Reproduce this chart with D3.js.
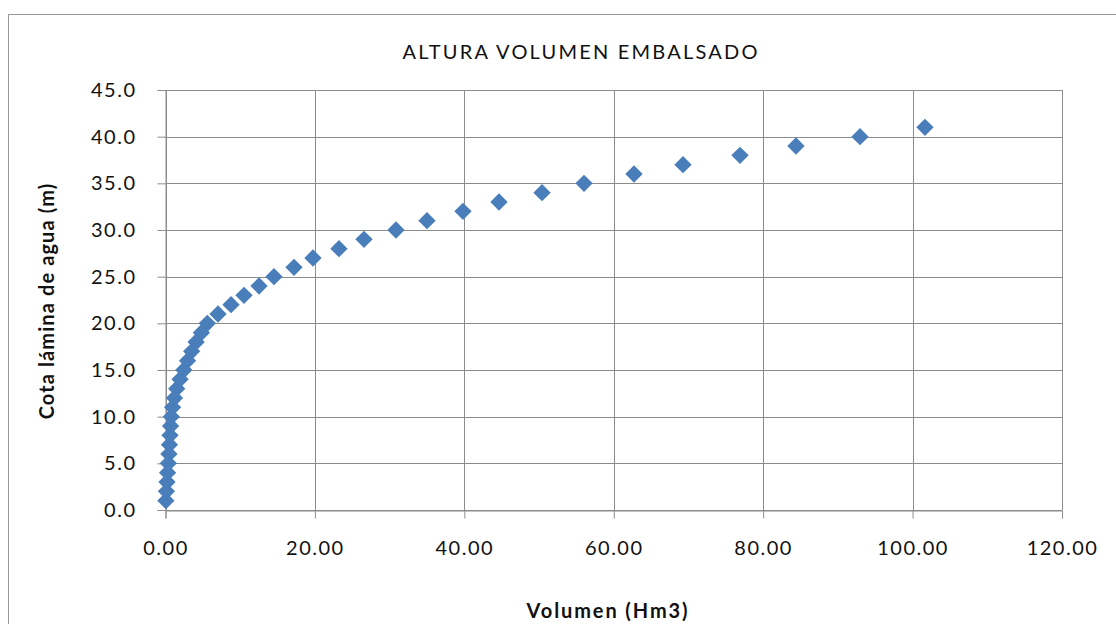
<!DOCTYPE html>
<html>
<head>
<meta charset="utf-8">
<script src="https://cdn.jsdelivr.net/npm/d3@7"></script>
<style>
  body { margin: 0; background: #fff; }
  text { font-family: Lato, "Open Sans", sans-serif; fill: #111; }
</style>
</head>
<body>
<script>
/* Cota (m) vs volumen embalsado (Hm3) */
var cota = [1, 2, 3, 4, 5, 6, 7, 8, 9, 10, 11, 12, 13, 14, 15, 16, 17, 18, 19, 20,
            21, 22, 23, 24, 25, 26, 27, 28, 29, 30, 31, 32, 33, 34, 35, 36, 37, 38, 39, 40, 41];
var volumen = [0.05, 0.12, 0.20, 0.28, 0.38, 0.46, 0.53, 0.60, 0.68, 0.78, 0.95, 1.20, 1.50, 1.95, 2.45,
               2.95, 3.50, 4.10, 4.80, 5.60, 7.03, 8.77, 10.51, 12.52, 14.52, 17.20, 19.74, 23.22,
               26.57, 30.85, 35.00, 39.82, 44.64, 50.40, 56.02, 62.71, 69.27, 76.90, 84.39, 92.96, 101.66];
var xTicks = [0, 20, 40, 60, 80, 100, 120];
var yTicks = [0, 5, 10, 15, 20, 25, 30, 35, 40, 45];

var width = 1116, height = 624;
var plotLeft = 165.5, plotRight = 1062, plotTop = 90, plotBottom = 510;

var svg = d3.select("body").append("svg")
    .attr("width", width)
    .attr("height", height);

// outer chart border
svg.append("rect")
    .attr("x", 8.5).attr("y", 14.5)
    .attr("width", 1120).attr("height", 700)
    .attr("fill", "none")
    .attr("stroke", "#999");

var x = d3.scaleLinear().domain([0, 120]).range([plotLeft, plotRight]);
var y = d3.scaleLinear().domain([0, 45]).range([plotBottom, plotTop]);

// grid
svg.append("g").selectAll("line")
    .data(yTicks).enter().append("line")
    .attr("x1", plotLeft).attr("x2", plotRight)
    .attr("y1", function(d) { return Math.round(y(d)) + 0.5; })
    .attr("y2", function(d) { return Math.round(y(d)) + 0.5; })
    .attr("stroke", "#8c8c8c");
svg.append("g").selectAll("line")
    .data(xTicks).enter().append("line")
    .attr("y1", plotTop).attr("y2", plotBottom)
    .attr("x1", function(d) { return Math.round(x(d)) + 0.5; })
    .attr("x2", function(d) { return Math.round(x(d)) + 0.5; })
    .attr("stroke", "#8c8c8c");

var xAxis = d3.axisBottom(x).tickValues(xTicks).tickSize(8).tickPadding(22)
    .tickFormat(d3.format(".2f"));
var yAxis = d3.axisLeft(y).tickValues(yTicks).tickSize(8).tickPadding(21)
    .tickFormat(d3.format(".1f"));

var gx = svg.append("g").attr("transform", "translate(0," + (plotBottom + 0.5) + ")").call(xAxis);
var gy = svg.append("g").attr("transform", "translate(" + plotLeft + ",0)").call(yAxis);
[gx, gy].forEach(function(g) {
  g.select(".domain").attr("stroke", "#8c8c8c");
  g.selectAll(".tick line").attr("stroke", "#8c8c8c");
  g.selectAll(".tick text")
      .style("font-size", "20px")
      .style("letter-spacing", "1.5px")
      .attr("fill", "#111");
});

// markers
var diamond = d3.symbol().type(d3.symbolSquare).size(150);
svg.append("g").selectAll("path")
    .data(volumen).enter().append("path")
    .attr("d", diamond)
    .attr("transform", function(d, i) {
      return "translate(" + x(d) + "," + y(cota[i]) + ") rotate(45)";
    })
    .attr("fill", "#4a7ebb");

// titles
svg.append("text")
    .attr("x", 581).attr("y", 59)
    .attr("text-anchor", "middle")
    .style("font-size", "20px")
    .style("letter-spacing", "2.2px")
    .text("ALTURA VOLUMEN EMBALSADO");

svg.append("text")
    .attr("x", 608).attr("y", 618)
    .attr("text-anchor", "middle")
    .style("font-size", "20px")
    .style("letter-spacing", "1.9px")
    .style("font-weight", "bold")
    .text("Volumen (Hm3)");

svg.append("text")
    .attr("transform", "translate(54,301) rotate(-90)")
    .attr("text-anchor", "middle")
    .style("font-size", "20px")
    .style("letter-spacing", "1.1px")
    .style("font-weight", "bold")
    .text("Cota lámina de agua (m)");
</script>
</body>
</html>
